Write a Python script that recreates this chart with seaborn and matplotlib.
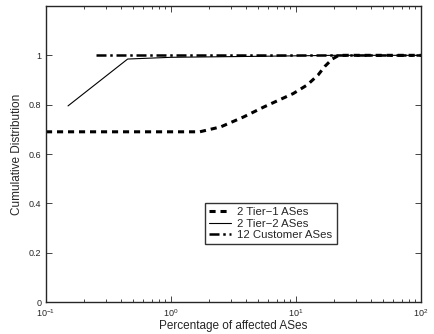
import matplotlib
matplotlib.use("Agg")
import matplotlib.pyplot as plt
import seaborn as sns
import pandas as pd
from matplotlib.ticker import LogLocator, FixedLocator

sns.set_style("ticks")
plt.rcParams['font.family'] = ['Liberation Sans', 'DejaVu Sans']

tier1_x = [0.1, 0.5, 1.0, 1.7, 2.5, 3.8, 5.5, 7.4, 9.5, 12.3, 15.0, 17.0, 19.5, 22.0, 100.0]
tier1_y = [0.69, 0.69, 0.69, 0.69, 0.71, 0.75, 0.79, 0.82, 0.845, 0.88, 0.92, 0.955, 0.985, 1.0, 1.0]

tier2_x = [0.15, 0.45, 1.0, 5.0, 20.0, 100.0]
tier2_y = [0.795, 0.985, 0.992, 0.996, 1.0, 1.0]

cust_x = [0.25, 1.0, 10.0, 100.0]
cust_y = [1.0, 1.0, 1.0, 1.0]

labels = ["2 Tier\u22121 ASes", "2 Tier\u22122 ASes", "12 Customer ASes"]

df = pd.concat([
    pd.DataFrame({"x": tier1_x, "y": tier1_y, "s": labels[0]}),
    pd.DataFrame({"x": tier2_x, "y": tier2_y, "s": labels[1]}),
    pd.DataFrame({"x": cust_x, "y": cust_y, "s": labels[2]}),
])

fig = plt.figure(figsize=(4.34, 3.34), dpi=100)
ax = fig.add_axes([46/434, 1 - 302/334, (421-46)/434, (302-6)/334])

styles = {labels[0]: dict(ls=(0, (2.0, 1.6)), lw=2.2),
          labels[1]: dict(ls='-', lw=0.8),
          labels[2]: dict(ls=(0, (4, 1.5, 1, 1.5)), lw=1.8)}
for lab in labels:
    sub = df[df.s == lab]
    sns.lineplot(data=sub, x="x", y="y", ax=ax, color="black", label=lab,
                 sort=False, estimator=None, **styles[lab])

ax.set_xscale("log")
ax.set_xlim(0.1, 100)
ax.set_ylim(0, 1.2)
ax.yaxis.set_major_locator(FixedLocator([0, 0.2, 0.4, 0.6, 0.8, 1.0]))
ax.set_yticklabels(["0", "0.2", "0.4", "0.6", "0.8", "1"])
ax.xaxis.set_major_locator(LogLocator(base=10, numticks=10))
ax.xaxis.set_minor_locator(LogLocator(base=10, subs=range(2, 10), numticks=20))
ax.tick_params(which="both", direction="in", top=True, right=True, labelsize=6.5, width=0.6)
ax.tick_params(which="major", length=4)
ax.tick_params(which="minor", length=2)
for sp in ax.spines.values():
    sp.set_linewidth(1.0)
    sp.set_visible(True)
ax.set_xlabel("Percentage of affected ASes", fontsize=8.5, labelpad=1)
ax.set_ylabel("Cumulative Distribution", fontsize=8.5, labelpad=4)

leg = ax.legend(loc="upper left", bbox_to_anchor=((205-46)/375, 1 - (203-6)/296),
                fontsize=8.2, frameon=True, fancybox=False, edgecolor="black",
                handlelength=1.9, borderpad=0.35, labelspacing=0.15, handletextpad=0.6,
                borderaxespad=0)
leg.get_frame().set_linewidth(1.0)

fig.savefig("out.png", dpi=100)
